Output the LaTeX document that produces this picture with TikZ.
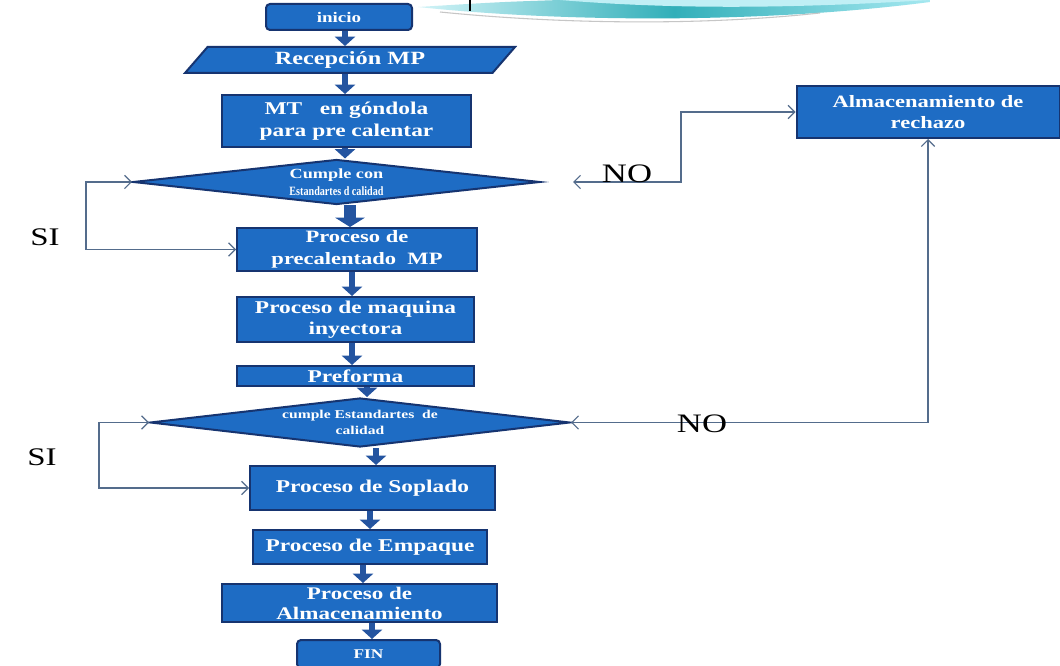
\documentclass[tikz,border=0pt]{standalone}
\usepackage{fontspec}
\setmainfont{Liberation Serif}
\newfontfamily\boxfont[FakeStretch=1.3]{Liberation Serif}
\newfontfamily\narrowfont[FakeStretch=0.8]{Liberation Serif}
\usetikzlibrary{shapes.geometric,arrows.meta,calc}

\definecolor{boxblue}{RGB}{30,108,196}
\definecolor{boxedge}{RGB}{22,52,112}
\definecolor{flowblue}{RGB}{36,84,160}
\definecolor{linkgray}{RGB}{84,108,140}
\definecolor{teal1}{RGB}{50,175,185}
\definecolor{teal2}{RGB}{165,232,240}

\newcommand{\fs}[2]{\fontsize{#1}{#2}\selectfont}

\tikzset{
  stepbox/.style={draw=boxedge, line width=1.5pt, fill=boxblue, text=white,
    align=center, inner sep=1pt, font=\boxfont\bfseries},
  decision/.style={stepbox, diamond, shape aspect=9, inner sep=0pt},
  flow/.style={draw=flowblue, line width=5pt, -{Triangle[length=7pt,width=15pt]}},
  wideflow/.style={draw=flowblue, line width=9pt, -{Triangle[length=7pt,width=22pt]}},
  link/.style={draw=linkgray, line width=0.9pt,
    {Straight Barb[length=5pt,width=10pt]}-{Straight Barb[length=5pt,width=10pt]}},
  answer/.style={text=black, font=\boxfont, inner sep=0pt}
}

\begin{document}
\begin{tikzpicture}[x=0.75pt, y=-0.75pt]
\useasboundingbox (0,0) rectangle (1060,666);
\clip (0,0) rectangle (1060,666);
\fill[white] (0,0) rectangle (1060,666);

% title decoration along the top edge
\shade[left color=teal2!50, right color=teal2, middle color=teal1]
  (418,7) .. controls (560,22) and (760,24) .. (930,2) -- (930,0)
  -- (560,0) .. controls (500,2) .. (418,7) -- cycle;
\fill[teal2!70!white] (560,0) .. controls (680,10) and (800,8) .. (930,0) -- cycle;
\draw[gray!45, line width=0.8pt] (440,12) .. controls (560,24) and (700,26) .. (820,13);
\draw[black, line width=1.6pt] (470,0) -- (470,11);

% process steps
\node[stepbox, rounded corners=3pt, minimum width=109.5pt, minimum height=19.5pt,
      font=\boxfont\bfseries\fs{11}{13}] (inicio) at (339,17) {inicio};
\node[stepbox, trapezium, trapezium left angle=41, trapezium right angle=139,
      trapezium stretches body, minimum width=247.5pt, minimum height=19.5pt,
      font=\boxfont\bfseries\fs{14}{16}] (recep) at (350,60) {Recepción MP};
\node[stepbox, minimum width=186.75pt, minimum height=39pt,
      font=\boxfont\bfseries\fs{13.5}{16}] (mt) at (346.5,121)
      {MT\ \ \ en góndola\\para pre calentar};
\node[decision, minimum width=305.25pt, minimum height=33.75pt,
      font=\boxfont\bfseries\fs{10.5}{12.5}] (d1) at (336.5,182)
      {Cumple con\\{\narrowfont\bfseries\fs{9.5}{12.5}Estandartes d calidad}};
\node[stepbox, minimum width=180pt, minimum height=32.25pt,
      font=\boxfont\bfseries\fs{13}{16}] (precal) at (357,249.5)
      {Proceso de\\precalentado\ \ MP};
\node[stepbox, minimum width=177.75pt, minimum height=33.75pt,
      font=\boxfont\bfseries\fs{13.5}{16}] (maq) at (355.5,319.5)
      {Proceso de maquina\\inyectora};
\node[stepbox, minimum width=177.75pt, minimum height=15pt, inner sep=0pt,
      font=\boxfont\bfseries\fs{13.5}{14}] (pref) at (355.5,376) {Preforma};
\node[decision, minimum width=315pt, minimum height=36.75pt,
      font=\boxfont\bfseries\fs{9}{12.5}] (d2) at (360,422.5)
      {cumple Estandartes\ \ de\\calidad};
\node[stepbox, minimum width=183.75pt, minimum height=33pt,
      font=\boxfont\bfseries\fs{13.5}{16}] (sopl) at (372.5,488) {Proceso de Soplado};
\node[stepbox, minimum width=175.5pt, minimum height=25.5pt,
      font=\boxfont\bfseries\fs{13.5}{16}] (emp) at (370,547) {Proceso de Empaque};
\node[stepbox, minimum width=206.25pt, minimum height=28.5pt,
      font=\boxfont\bfseries\fs{13.3}{15}] (alm) at (359.5,603)
      {Proceso de\\Almacenamiento};
\node[stepbox, rounded corners=3pt, minimum width=107.25pt, minimum height=21pt,
      font=\boxfont\bfseries\fs{10}{12}] (fin) at (368.5,654) {FIN};
\node[stepbox, minimum width=197.25pt, minimum height=39pt,
      font=\boxfont\bfseries\fs{13}{15.5}] (rech) at (928,112)
      {Almacenamiento de\\rechazo};

% columns of the main flow arrows
\coordinate (c1) at (345,0);
\coordinate (c2) at (350,0);
\coordinate (c3) at (352,0);
\coordinate (c4) at (367,0);
\coordinate (c5) at (376,0);
\coordinate (c6) at (370,0);
\coordinate (c7) at (363,0);
\coordinate (c8) at (372,0);

\draw[flow] (inicio.south -| c1) -- (recep.north -| c1);
\draw[flow] (recep.south -| c1) -- (mt.north -| c1);
\draw[flow] (mt.south -| c1) -- (d1.north -| c1);
\draw[wideflow] (d1.south -| c2) -- (precal.north -| c2);
\draw[flow] (precal.south -| c3) -- (maq.north -| c3);
\draw[flow] (maq.south -| c3) -- (pref.north -| c3);
\draw[flow] (pref.south -| c4) -- (d2.north -| c4);
\draw[flow] (d2.south -| c5) -- (sopl.north -| c5);
\draw[flow] (sopl.south -| c6) -- (emp.north -| c6);
\draw[flow] (emp.south -| c7) -- (alm.north -| c7);
\draw[flow] (alm.south -| c8) -- (fin.north -| c8);

% yes branches
\draw[link] (d1.west) -- ++(-46,0) |- (precal.west);
\draw[link] (d2.west) -- ++(-50,0) |- (sopl.west);
\node[answer, font=\boxfont\fs{19}{22}] (si1) at (45,237) {SI};
\node[answer, font=\boxfont\fs{19}{22}] (si2) at (42,457) {SI};

% no branches towards the reject store
\coordinate (noend) at ($(d1.east)+(32,0)$);
\draw[link] (noend) -- ++(108,0) |- (rech.west);
\draw[link] (d2.east) -| (rech.south);
\node[answer, anchor=base, font=\boxfont\fs{20}{22}] (no1) at (627,183) {NO};
\node[answer, font=\boxfont\fs{20}{22}] (no2) at (702,424) {NO};
\end{tikzpicture}
\end{document}
